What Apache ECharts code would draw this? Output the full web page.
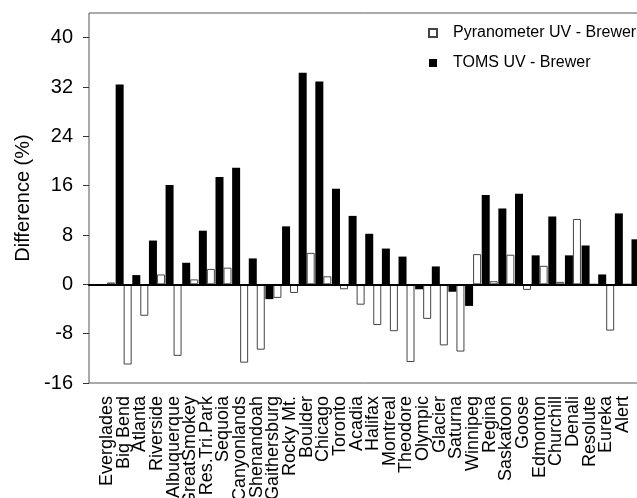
<!DOCTYPE html>
<html>
<head>
<meta charset="utf-8">
<script src="https://cdn.jsdelivr.net/npm/echarts@6/dist/echarts.min.js"></script>
<style>
html,body{margin:0;padding:0;background:#fff;}
#chart{width:637px;height:498px;}
</style>
</head>
<body>
<div id="chart"></div>
<script>
// Site labels (the 33rd slot is an unlabeled, partly cut-off group at the right edge)
var sites = ['Everglades','Big Bend','Atlanta','Riverside','Albuquerque','GreatSmokey','Res.Tri.Park','Sequoia',
  'Canyonlands','Shenandoah','Gaithersburg','Rocky Mt.','Boulder','Chicago','Toronto','Acadia','Halifax',
  'Montreal','Theodore','Olympic','Glacier','Saturna','Winnipeg','Regina','Saskatoon','Goose','Edmonton',
  'Churchill','Denali','Resolute','Eureka','Alert',''];
var tomsUV = [0, 32.4, 1.5, 7.1, 16.1, 3.5, 8.7, 17.4, 18.9, 4.2, -2.4, 9.4, 34.3, 32.9, 15.5, 11.1, 8.2,
  5.8, 4.5, -0.8, 2.9, -1.2, -3.5, 14.5, 12.3, 14.7, 4.7, 11.0, 4.7, 6.3, 1.6, 11.5, 7.3];
var pyranometerUV = [0.3, -13.0, -5.1, 1.6, -11.6, 0.8, 2.5, 2.7, -12.7, -10.6, -2.2, -1.4, 5.1, 1.3, -0.8,
  -3.3, -6.6, -7.6, -12.6, -5.6, -9.9, -10.9, 4.9, 0.5, 4.8, -0.9, 3.0, 0.4, 10.6, 0, -7.5, 0, null];
var yTicks = [-16, -8, 0, 8, 16, 24, 32, 40];
var yMin = -16, yMax = 44;

var FONT = '"Liberation Sans", Arial, Helvetica, sans-serif';
var chart = echarts.init(document.getElementById('chart'), null, {renderer: 'canvas'});
chart.setOption({
  animation: false,
  backgroundColor: '#fff',
  textStyle: {fontFamily: FONT, color: '#000'},
  legend: {
    data: ['Pyranometer UV - Brewer', 'TOMS UV - Brewer'],
    orient: 'vertical',
    left: 428, top: 25, padding: 0,
    itemWidth: 8, itemHeight: 8, itemGap: 14,
    icon: 'rect',
    textStyle: {fontFamily: FONT, fontSize: 16, color: '#000', padding: [0, 0, 0, 11]}
  },
  grid: [
    {left: 89, right: -30, top: 13, bottom: 115, show: true, borderColor: '#555', borderWidth: 1,
      backgroundColor: 'transparent', outerBoundsMode: 'none', containLabel: false},
    {left: 98.7, right: -10.8, top: 13, bottom: 115, outerBoundsMode: 'none', containLabel: false}
  ],
  xAxis: [
    {gridIndex: 0, type: 'value', min: 0, max: 1, z: 5,
      axisLine: {show: true, onZero: true, lineStyle: {color: '#000', width: 2}},
      axisTick: {show: false}, axisLabel: {show: false}, splitLine: {show: false}},
    {gridIndex: 1, type: 'category', data: sites,
      axisLine: {show: false}, axisTick: {show: false}, splitLine: {show: false},
      axisLabel: {interval: 0, rotate: 90, margin: 13, fontSize: 18, color: '#000', fontFamily: FONT}}
  ],
  yAxis: [
    {gridIndex: 0, type: 'value', min: yMin, max: yMax,
      name: 'Difference (%)', nameLocation: 'middle', nameGap: 50,
      nameTextStyle: {fontSize: 20, color: '#000', fontFamily: FONT},
      axisLine: {show: false},
      axisTick: {show: true, inside: false, length: 6, customValues: yTicks, lineStyle: {color: '#333'}},
      axisLabel: {margin: 16, fontSize: 20, color: '#000', fontFamily: FONT, customValues: yTicks},
      splitLine: {show: false}},
    {gridIndex: 1, type: 'value', min: yMin, max: yMax, show: false}
  ],
  series: [
    {name: 'TOMS UV - Brewer', type: 'bar', xAxisIndex: 1, yAxisIndex: 1, data: tomsUV,
      barWidth: 8, barGap: '0%',
      itemStyle: {color: '#000', borderColor: '#000', borderWidth: 0}},
    {name: 'Pyranometer UV - Brewer', type: 'bar', xAxisIndex: 1, yAxisIndex: 1, data: pyranometerUV,
      barWidth: 8, barGap: '0%',
      itemStyle: {color: '#fff', borderColor: '#444', borderWidth: 1}}
  ]
});
</script>
</body>
</html>
